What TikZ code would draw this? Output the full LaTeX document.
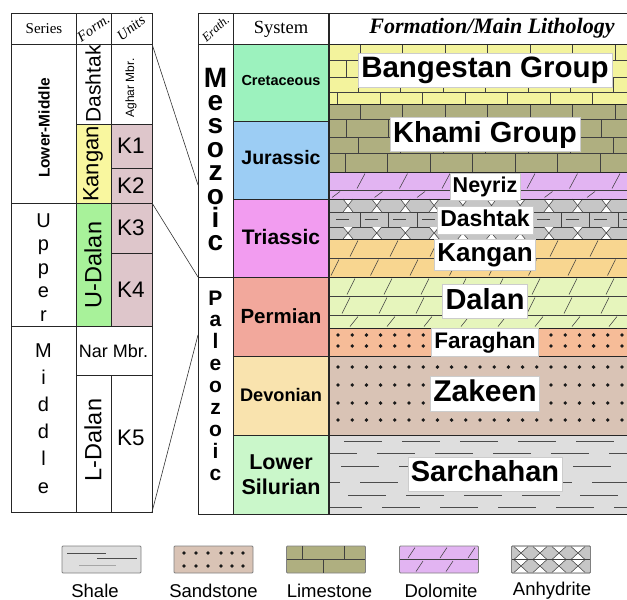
\documentclass[tikz,border=0pt]{standalone}
\usepackage{fontspec}
\setmainfont{Liberation Serif}
\setsansfont{Liberation Sans}
\newcommand{\fsz}[1]{\fontsize{#1}{#1}\selectfont}
\definecolor{cBang}{HTML}{F3F39D}
\definecolor{cKhami}{HTML}{AFAF80}
\definecolor{cDolP}{HTML}{E2B4F2}
\definecolor{cAnh}{HTML}{C6C6C6}
\definecolor{cKang}{HTML}{F8D690}
\definecolor{cDalan}{HTML}{E6F5BC}
\definecolor{cFar}{HTML}{F6BC98}
\definecolor{cZak}{HTML}{D9C3B5}
\definecolor{cSh}{HTML}{DEDEDE}
\definecolor{cCret}{HTML}{9CF2BE}
\definecolor{cJur}{HTML}{9CCDF4}
\definecolor{cTri}{HTML}{F29CF0}
\definecolor{cPerm}{HTML}{F2A89C}
\definecolor{cDev}{HTML}{F9E3AE}
\definecolor{cSil}{HTML}{CAF7CA}
\definecolor{cKY}{HTML}{F9F79F}
\definecolor{cUD}{HTML}{A8F29A}
\definecolor{cKP}{HTML}{DEC6CB}
% limestone brick row: ytop ybot xstart
\newcommand{\lsrow}[3]{\foreach \k in {0,...,8}{\draw[pat] ({#3+42.5*\k},#1) -- ({#3+42.5*\k},#2);}}
% dolomite row: ytop ybot xstart step
\newcommand{\dolrow}[4]{\foreach \k in {-1,...,9}{\draw[pat] ({#3+#4*\k},{#2-1.5}) -- ({#3+#4*\k+8},{#1+1.5});}}
% anhydrite cross: ytop ybot cx halfwidth
\newcommand{\anhx}[4]{%
  \fill[white] ({#3-#4},#1) -- ({#3+#4},#1) -- ({#3},{(#1+#2)/2}) -- cycle;
  \fill[white] ({#3-#4},#2) -- ({#3+#4},#2) -- ({#3},{(#1+#2)/2}) -- cycle;
  \draw[pat] ({#3-#4},#1) -- ({#3+#4},#2) ({#3+#4},#1) -- ({#3-#4},#2);}
% sandstone dots: y xstart
\newcommand{\sdrow}[2]{\foreach \k in {0,...,21}{\fill[black!90] ({#2+14.2*\k},#1) circle (1.9pt);}}
% shale dashes: y xstart
\newcommand{\shrow}[2]{\foreach \k in {-1,...,6}{\draw[shp] ({#2+58*\k},#1) -- ({#2+58*\k+38},#1);}}
\begin{document}
\begin{tikzpicture}[x=1pt,y=-1pt,
  grid/.style={draw=black!85,line width=0.8pt},
  pat/.style={draw=black!75,line width=0.55pt},
  shp/.style={draw=black!70,line width=0.6pt},
  conn/.style={draw=black!80,line width=0.6pt},
  lbl/.style={fill=white,draw=black!20,line width=0.4pt,inner xsep=3pt,inner ysep=3.2pt},
  sb/.style={font=\sffamily\bfseries\fsz{#1}},
  sr/.style={font=\sffamily\fsz{#1}},
  legbox/.style={draw=black!50,line width=0.9pt,rounded corners=1pt,minimum width=79pt,minimum height=27pt,inner sep=0pt}]
\useasboundingbox (0,0) rectangle (627,600);

% ---------- left table fills
\fill[cKY] (76,124) rectangle (111,203);
\fill[cUD] (76,203) rectangle (111,326);
\fill[cKP] (111,124) rectangle (152,326);
% ---------- system fills
\fill[cCret] (233,44) rectangle (329,121);
\fill[cJur] (233,121) rectangle (329,199);
\fill[cTri] (233,199) rectangle (329,277);
\fill[cPerm] (233,277) rectangle (329,356);
\fill[cDev] (233,356) rectangle (329,435);
\fill[cSil] (233,435) rectangle (329,514);

% ---------- formation column
\begin{scope}
\clip (329,44) rectangle (627,514);
\fill[cBang] (329,44) rectangle (627,104);
\fill[cKhami] (329,104) rectangle (627,172);
\fill[cDolP] (329,172) rectangle (627,199);
\fill[cAnh] (329,199) rectangle (627,239);
\fill[cKang] (329,239) rectangle (627,277);
\fill[cDalan] (329,277) rectangle (627,328);
\fill[cFar] (329,328) rectangle (627,356);
\fill[cZak] (329,356) rectangle (627,435);
\fill[cSh] (329,435) rectangle (627,514);
% Bangestan limestone
\foreach \yy in {60,77,92}{\draw[pat] (329,\yy) -- (627,\yy);}
\lsrow{44}{60}{317.5}
\lsrow{60}{77}{303.5}
\lsrow{77}{92}{315.5}
\lsrow{92}{104}{337.5}
% Khami limestone
\foreach \yy in {119,137,153}{\draw[pat] (329,\yy) -- (627,\yy);}
\lsrow{104}{119}{317.5}
\lsrow{119}{137}{303.5}
\lsrow{137}{153}{315.5}
\lsrow{153}{172}{302.5}
% Neyriz dolomite
\draw[pat] (329,190) -- (627,190);
\dolrow{172}{190}{357}{42.5}
\dolrow{190}{199}{332}{42.5}
% Dashtak anhydrite
\draw[pat] (329,212) -- (627,212);
\draw[pat] (329,227) -- (627,227);
\foreach \k in {0,...,10}{
  \pgfmathsetmacro\cx{348+28.7*\k}
  \anhx{199}{212}{\cx}{5}
  \anhx{227}{239}{\cx}{5}
  \draw[pat] ({360+28.7*\k},212) -- ({360+28.7*\k},227);
  \draw[pat] ({336+28.7*\k},219.5) -- ({349+28.7*\k},219.5);
}
% Kangan dolomite
\draw[pat] (329,258) -- (627,258);
\dolrow{239}{258}{350}{40}
\dolrow{258}{277}{331}{39.5}
% Dalan dolomite
\draw[pat] (329,296) -- (627,296);
\draw[pat] (329,315) -- (627,315);
\dolrow{277}{296}{347}{37}
\dolrow{296}{315}{342}{37}
\dolrow{315}{328}{350}{37}
% Faraghan sandstone
\sdrow{335}{338}
\sdrow{346}{338}
% Zakeen sandstone
\sdrow{367}{338}
\sdrow{385}{338}
\sdrow{403}{338}
\sdrow{420}{338}
% Sarchahan shale
\shrow{441}{344}
\shrow{453}{377}
\shrow{466}{341}
\shrow{482}{360}
\shrow{495}{348}
\shrow{507}{324}
% layer boundaries
\foreach \yy in {104,172,199,239,277,328,356,435}{\draw[grid] (329,\yy) -- (627,\yy);}
\end{scope}

% ---------- left table lines
\draw[grid] (11,13) rectangle (152,512);
\draw[grid] (11,44) -- (152,44);
\draw[grid] (76,13) -- (76,512);
\draw[grid] (111,13) -- (111,326);
\draw[grid] (111,375) -- (111,512);
\draw[grid] (11,203) -- (152,203);
\draw[grid] (11,326) -- (152,326);
\draw[grid] (76,124) -- (152,124);
\draw[grid] (111,168) -- (152,168);
\draw[grid] (111,253) -- (152,253);
\draw[grid] (76,375) -- (152,375);

% ---------- middle table lines
\draw[grid] (198,13) -- (627,13);
\draw[grid] (198,44) -- (627,44);
\draw[grid] (198,514) -- (627,514);
\draw[grid] (198,13) -- (198,514);
\draw[grid] (233,13) -- (233,514);
\draw[grid,line width=1.2pt] (329,13) -- (329,514);
\draw[grid] (198,277) -- (233,277);
\foreach \yy in {121,199,277,356,435}{\draw[grid] (233,\yy) -- (329,\yy);}

% ---------- connectors
\coordinate (ca1) at (152,44);  \coordinate (cb1) at (198,185);
\coordinate (ca2) at (152,203); \coordinate (cb2) at (198,277);
\coordinate (ca3) at (152,512); \coordinate (cb3) at (198,335);
\draw[conn] (ca1) -- (cb1);
\draw[conn] (ca2) -- (cb2);
\draw[conn] (ca3) -- (cb3);

% ---------- headers
\node[font=\fsz{15}] (hSeries) at (44,29) {Series};
\node[font=\itshape\fsz{14.5}, rotate=35, inner sep=0pt] (hForm) at (93.5,28) {Form.};
\node[font=\itshape\fsz{14.5}, rotate=38, inner sep=0pt] (hUnits) at (131,28) {Units};
\node[font=\itshape\fsz{12.5}, rotate=42, inner sep=0pt] (hErath) at (215.5,28.5) {Erath.};
\node[font=\fsz{18.5}] (hSystem) at (281,29.5) {System};
\node[font=\bfseries\itshape\fsz{22}] (hFormLith) at (492,28) {Formation/Main Lithology};

% ---------- left table texts
\node[sb=15.5, rotate=90] (sLM) at (44,128) {Lower-Middle};
\foreach \ch [count=\i from 0] in {U,p,p,e,r}
  \node[sr=20, anchor=base] (sUp\i) at (43.5,{227+23.5*\i}) {\ch};
\foreach \ch [count=\i from 0] in {M,i,d,d,l,e}
  \node[sr=20, anchor=base] (sMi\i) at (43.5,{357+27.2*\i}) {\ch};
\node[sr=21, rotate=90] (fDash) at (93,84) {Dashtak};
\node[sr=22, rotate=90] (fKang) at (93,164) {Kangan};
\node[sr=23.5, rotate=90] (fUD) at (93,265) {U-Dalan};
\node[sr=23.5, rotate=90] (fLD) at (93,440) {L-Dalan};
\node[sr=12, rotate=90] (uAg) at (131,88) {Aghar Mbr.};
\node[sr=22.5] (uK1) at (131,146) {K1};
\node[sr=22.5] (uK2) at (131,186) {K2};
\node[sr=22.5] (uK3) at (131,228) {K3};
\node[sr=22.5] (uK4) at (131,290) {K4};
\node[sr=22.5] (uK5) at (131,438) {K5};
\node[sr=18] (uNar) at (113.5,351) {Nar Mbr.};

% ---------- erathem letters
\foreach \ch [count=\i from 0] in {M,e,s,o,z,o,i,c}
  \node[sb=28, anchor=base, inner sep=0pt] (eMz\i) at (215.5,{87+23.4*\i}) {\ch};
\foreach \ch [count=\i from 0] in {P,a,l,e,o,z,o,i,c}
  \node[sb=21, anchor=base, inner sep=0pt] (ePz\i) at (215.5,{305+21.9*\i}) {\ch};

% ---------- system texts
\node[sb=14.5] (sCret) at (281,81) {Cretaceous};
\node[sb=19.5] (sJur) at (281,158) {Jurassic};
\node[sb=21] (sTri) at (281,237) {Triassic};
\node[sb=20.5] (sPerm) at (281,316.5) {Permian};
\node[sb=18.2] (sDev) at (281,395) {Devonian};
\node[font=\sffamily\bfseries\fontsize{21.5}{25}\selectfont, align=center] (sSil) at (281,474.5) {Lower\\Silurian};

% ---------- formation labels
\node[lbl, sb=29.5, text height=21.8pt, text depth=6.2pt] (nBang) at (485,70) {Bangestan Group};
\node[lbl, sb=29, text height=21.5pt, text depth=6.1pt] (nKhami) at (485,134.5) {Khami Group};
\node[lbl, sb=21.5, text height=15.9pt, text depth=4.5pt] (nNey) at (485,186.5) {Neyriz};
\node[lbl, sb=23, text height=17pt, text depth=4.8pt] (nDash) at (485,220.5) {Dashtak};
\node[lbl, sb=26, text height=19.2pt, text depth=5.5pt] (nKang) at (485,254.5) {Kangan};
\node[lbl, sb=29, text height=21.5pt, text depth=6.1pt] (nDalan) at (485,301.5) {Dalan};
\node[lbl, sb=22.5, text height=16.7pt, text depth=4.7pt] (nFar) at (485,342.5) {Faraghan};
\node[lbl, sb=30, text height=22.2pt, text depth=6.3pt] (nZak) at (485,393.5) {Zakeen};
\node[lbl, sb=29, text height=21.5pt, text depth=6.1pt] (nSar) at (485,474) {Sarchahan};

% ---------- legend
\node[legbox, fill=cSh] (lg1) at (101.5,559.5) {};
\node[legbox, fill=cZak] (lg2) at (213.5,559.5) {};
\node[legbox, fill=cKhami] (lg3) at (326,559.5) {};
\node[legbox, fill=cDolP] (lg4) at (439,559.5) {};
\node[legbox, fill=cAnh] (lg5) at (551,559.5) {};
% shale
\draw[shp] (67,553) -- (106,553);
\draw[shp] (97,558) -- (137,558);
\draw[draw=black!35,line width=0.6pt] (79,565.5) -- (116,565.5);
% sandstone
\foreach \xx in {184,196,208,221,232,243}{
  \fill[black!90] (\xx,553) circle (1.9pt);
  \fill[black!90] (\xx,566) circle (1.9pt);}
% limestone
\draw[pat] (287,559.5) -- (365,559.5);
\draw[pat] (302,546) -- (302,559.5) (344,546) -- (344,559.5) (323,559.5) -- (323,573);
% dolomite
\draw[pat] (400,559.5) -- (478,559.5);
\foreach \xx in {408,440,468}{\draw[pat] (\xx,558) -- (\xx+7,547.5);}
\foreach \xx in {416,446}{\draw[pat] (\xx,571.5) -- (\xx+7,561);}
% anhydrite
\foreach \xx in {521,540,559,578}{
  \anhx{546.5}{559.5}{\xx}{7}
  \anhx{559.5}{572.5}{\xx}{7}}
\draw[pat] (512,559.5) -- (590,559.5);
\node[legbox, fill=none] (lg5b) at (551,559.5) {};
% legend labels
\node[sr=18.5, anchor=base] (lt1) at (95,597) {Shale};
\node[sr=18.5, anchor=base] (lt2) at (213.5,597) {Sandstone};
\node[sr=18.5, anchor=base] (lt3) at (329.5,597) {Limestone};
\node[sr=18.5, anchor=base] (lt4) at (441,597) {Dolomite};
\node[sr=18.5, anchor=base] (lt5) at (552,595) {Anhydrite};
\end{tikzpicture}
\end{document}
